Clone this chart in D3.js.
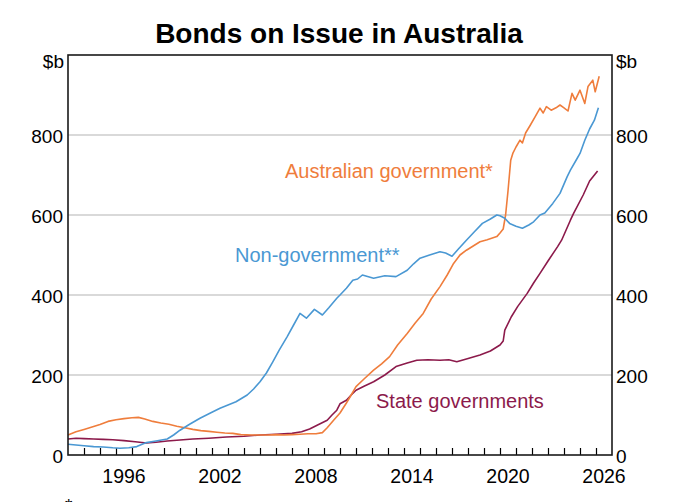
<!DOCTYPE html>
<html>
<head>
<meta charset="utf-8">
<script src="https://cdn.jsdelivr.net/npm/d3@7"></script>
<style>
  body { margin: 0; background: #fff; }
  svg { font-family: "Liberation Sans", Arial, sans-serif; }
</style>
</head>
<body>
<svg id="chart"></svg>
<script>
// values, [year, $b]
var ausGov = [
  [1993.0, 50], [1993.5, 58], [1994.0, 64], [1994.5, 70], [1995.0, 76], [1995.5, 84],
  [1996.0, 88], [1996.5, 91], [1997.0, 93], [1997.4, 94], [1997.8, 90], [1998.3, 84],
  [1998.8, 80], [1999.3, 77], [1999.8, 72], [2000.3, 68], [2000.8, 64], [2001.3, 61],
  [2001.8, 59], [2002.3, 57], [2002.8, 55], [2003.3, 54], [2003.8, 51], [2004.5, 50],
  [2005.0, 50], [2005.5, 50], [2006.0, 51], [2006.5, 50], [2007.0, 51], [2007.5, 52],
  [2008.0, 53], [2008.5, 53], [2008.9, 56], [2009.2, 68], [2009.6, 87], [2010.0, 105],
  [2010.4, 130], [2010.7, 150], [2011.0, 171], [2011.5, 190], [2012.1, 212], [2012.6, 228],
  [2013.1, 246], [2013.6, 275], [2014.2, 304], [2014.7, 330], [2015.2, 354], [2015.7, 390],
  [2016.25, 421], [2016.7, 450], [2017.1, 479], [2017.5, 500], [2017.9, 512], [2018.3, 522],
  [2018.75, 533], [2019.2, 538], [2019.8, 546], [2020.0, 555], [2020.2, 565], [2020.35, 600],
  [2020.5, 660], [2020.67, 737], [2020.8, 754], [2021.0, 770], [2021.25, 787], [2021.4, 780],
  [2021.6, 805], [2021.9, 825], [2022.2, 846], [2022.5, 867], [2022.7, 855], [2022.9, 871],
  [2023.2, 862], [2023.5, 868], [2023.75, 875], [2024.0, 868], [2024.25, 860], [2024.5, 904],
  [2024.7, 887], [2025.0, 912], [2025.3, 879], [2025.5, 921], [2025.8, 937], [2025.95, 908],
  [2026.2, 947]
];

var nonGov = [
  [1993.0, 27], [1993.5, 25], [1994.0, 23], [1994.6, 21], [1995.2, 20], [1995.8, 18],
  [1996.25, 17], [1996.8, 18], [1997.3, 21], [1997.9, 31], [1998.5, 35], [1999.2, 40],
  [1999.6, 50], [2000.0, 62], [2000.6, 77], [2001.25, 92], [2001.9, 105], [2002.5, 117],
  [2003.0, 125], [2003.5, 133], [2004.2, 150], [2004.6, 165], [2005.0, 183], [2005.4, 205],
  [2005.8, 233], [2006.2, 262], [2006.7, 296], [2007.1, 325], [2007.5, 354], [2007.9, 342],
  [2008.4, 364], [2008.9, 350], [2009.3, 368], [2009.8, 392], [2010.0, 400], [2010.4, 417],
  [2010.8, 437], [2011.1, 440], [2011.4, 450], [2012.1, 442], [2012.8, 448], [2013.5, 446],
  [2014.2, 462], [2014.6, 478], [2015.0, 492], [2015.6, 500], [2016.25, 508], [2016.6, 505],
  [2017.0, 497], [2017.4, 515], [2017.9, 537], [2018.4, 558], [2018.9, 579], [2019.4, 590],
  [2019.8, 600], [2020.0, 598], [2020.3, 592], [2020.6, 579], [2021.0, 572], [2021.4, 567],
  [2021.8, 575], [2022.1, 583], [2022.5, 600], [2022.8, 605], [2023.3, 629], [2023.75, 654],
  [2024.2, 696], [2024.4, 712], [2024.8, 740], [2025.0, 754], [2025.3, 787], [2025.6, 815],
  [2025.9, 837], [2026.15, 868]
];

var stateGov = [
  [1993.0, 40], [1993.5, 42], [1994.0, 41], [1994.6, 40], [1995.2, 39], [1995.8, 38],
  [1996.5, 36], [1997.2, 33], [1997.9, 30], [1998.5, 32], [1999.2, 35], [1999.8, 37],
  [2000.8, 40], [2001.8, 42], [2002.9, 45], [2004.0, 47], [2005.0, 50], [2006.0, 52],
  [2007.0, 54], [2007.6, 58], [2008.1, 65], [2008.6, 75], [2009.2, 87], [2009.5, 100],
  [2009.8, 112], [2010.0, 128], [2010.4, 137], [2010.7, 150], [2011.0, 162], [2011.5, 172],
  [2012.1, 183], [2012.8, 200], [2013.5, 221], [2014.2, 230], [2014.8, 237], [2015.5, 238],
  [2016.25, 237], [2016.8, 238], [2017.3, 233], [2017.9, 240], [2018.75, 250], [2019.4, 260],
  [2020.0, 275], [2020.2, 285], [2020.3, 312], [2020.7, 345], [2021.1, 371], [2021.7, 404],
  [2022.1, 430], [2022.5, 454], [2023.0, 485], [2023.6, 521], [2023.85, 537], [2024.4, 587],
  [2024.6, 604], [2025.2, 650], [2025.6, 685], [2025.9, 700], [2026.1, 710]
];

var yTicks = [0, 200, 400, 600, 800];
var xLabels = [1996, 2002, 2008, 2014, 2020, 2026];

var width = 680, height = 502;
var margin = { top: 55, left: 68, bottom: 47, right: 68 };

var svg = d3.select("#chart")
    .attr("width", width)
    .attr("height", height);

var x = d3.scaleLinear().domain([1993, 2027]).range([margin.left, width - margin.right]);
var y = d3.scaleLinear().domain([0, 1000]).range([height - margin.bottom, margin.top]);

// title
svg.append("text")
    .attr("x", 339)
    .attr("y", 43)
    .attr("text-anchor", "middle")
    .style("font-size", "28px")
    .style("font-weight", "bold")
    .text("Bonds on Issue in Australia");

// gridlines
svg.append("g").selectAll("line")
    .data(yTicks.filter(function(d) { return d > 0; }))
    .enter().append("line")
    .attr("x1", x(1993)).attr("x2", x(2027))
    .attr("y1", function(d) { return y(d); })
    .attr("y2", function(d) { return y(d); })
    .attr("stroke", "#b4b4b4")
    .attr("stroke-width", 1.2);

// y axes, left and right
var yLeft = d3.axisLeft(y).tickValues(yTicks).tickSize(0).tickPadding(5);
var yRight = d3.axisRight(y).tickValues(yTicks).tickSize(0).tickPadding(4);

svg.append("g")
    .attr("transform", "translate(" + x(1993) + ",0)")
    .call(yLeft)
    .call(function(g) { g.select(".domain").remove(); });
svg.append("g")
    .attr("transform", "translate(" + x(2027) + ",0)")
    .call(yRight)
    .call(function(g) { g.select(".domain").remove(); });

svg.selectAll(".tick text")
    .style("font-size", "19px")
    .style("font-family", "Liberation Sans, Arial, sans-serif")
    .attr("fill", "#000")
    .attr("dy", "0.4em");

svg.append("text").attr("x", x(1993) - 4).attr("y", 68)
    .attr("text-anchor", "end").style("font-size", "19px").text("$b");
svg.append("text").attr("x", x(2027) + 4).attr("y", 68)
    .style("font-size", "19px").text("$b");

// x axis: yearly ticks pointing up, labels centred in the year
var xAxis = d3.axisBottom(x)
    .tickValues(d3.range(1994, 2027))
    .tickSize(-7)
    .tickFormat("");
svg.append("g")
    .attr("transform", "translate(0," + y(0) + ")")
    .call(xAxis)
    .call(function(g) {
        g.select(".domain").remove();
        g.selectAll(".tick line").attr("stroke", "#000").attr("stroke-width", 1.2);
    });

svg.append("g").selectAll("text")
    .data(xLabels)
    .enter().append("text")
    .attr("x", function(d) { return x(d + 0.5); })
    .attr("y", 483)
    .attr("text-anchor", "middle")
    .style("font-size", "19.5px")
    .text(function(d) { return d; });

// lines
var line = d3.line()
    .x(function(d) { return x(d[0]); })
    .y(function(d) { return y(d[1]); });

var series = [
    { data: stateGov, color: "#8c1a4b" },
    { data: ausGov, color: "#ef7d3c" },
    { data: nonGov, color: "#4a98d3" }
];

svg.append("g").selectAll("path")
    .data(series)
    .enter().append("path")
    .attr("d", function(d) { return line(d.data); })
    .attr("fill", "none")
    .attr("stroke", function(d) { return d.color; })
    .attr("stroke-width", 1.6)
    .attr("stroke-linejoin", "round");

// series labels
svg.append("text").attr("x", 285).attr("y", 178)
    .attr("fill", "#ef7d3c").style("font-size", "20px").text("Australian government*");
svg.append("text").attr("x", 235).attr("y", 262)
    .attr("fill", "#4a98d3").style("font-size", "20px").text("Non-government**");
svg.append("text").attr("x", 376).attr("y", 408)
    .attr("fill", "#8c1a4b").style("font-size", "20px").text("State governments");

// plot frame
svg.append("rect")
    .attr("x", x(1993)).attr("y", y(1000))
    .attr("width", x(2027) - x(1993))
    .attr("height", y(0) - y(1000))
    .attr("fill", "none")
    .attr("stroke", "#1a1a1a")
    .attr("stroke-width", 1.6);

// footnote marker, cut by the bottom edge as in the reference
svg.append("text").attr("x", 65).attr("y", 512)
    .style("font-size", "19px").text("*");
</script>
</body>
</html>
